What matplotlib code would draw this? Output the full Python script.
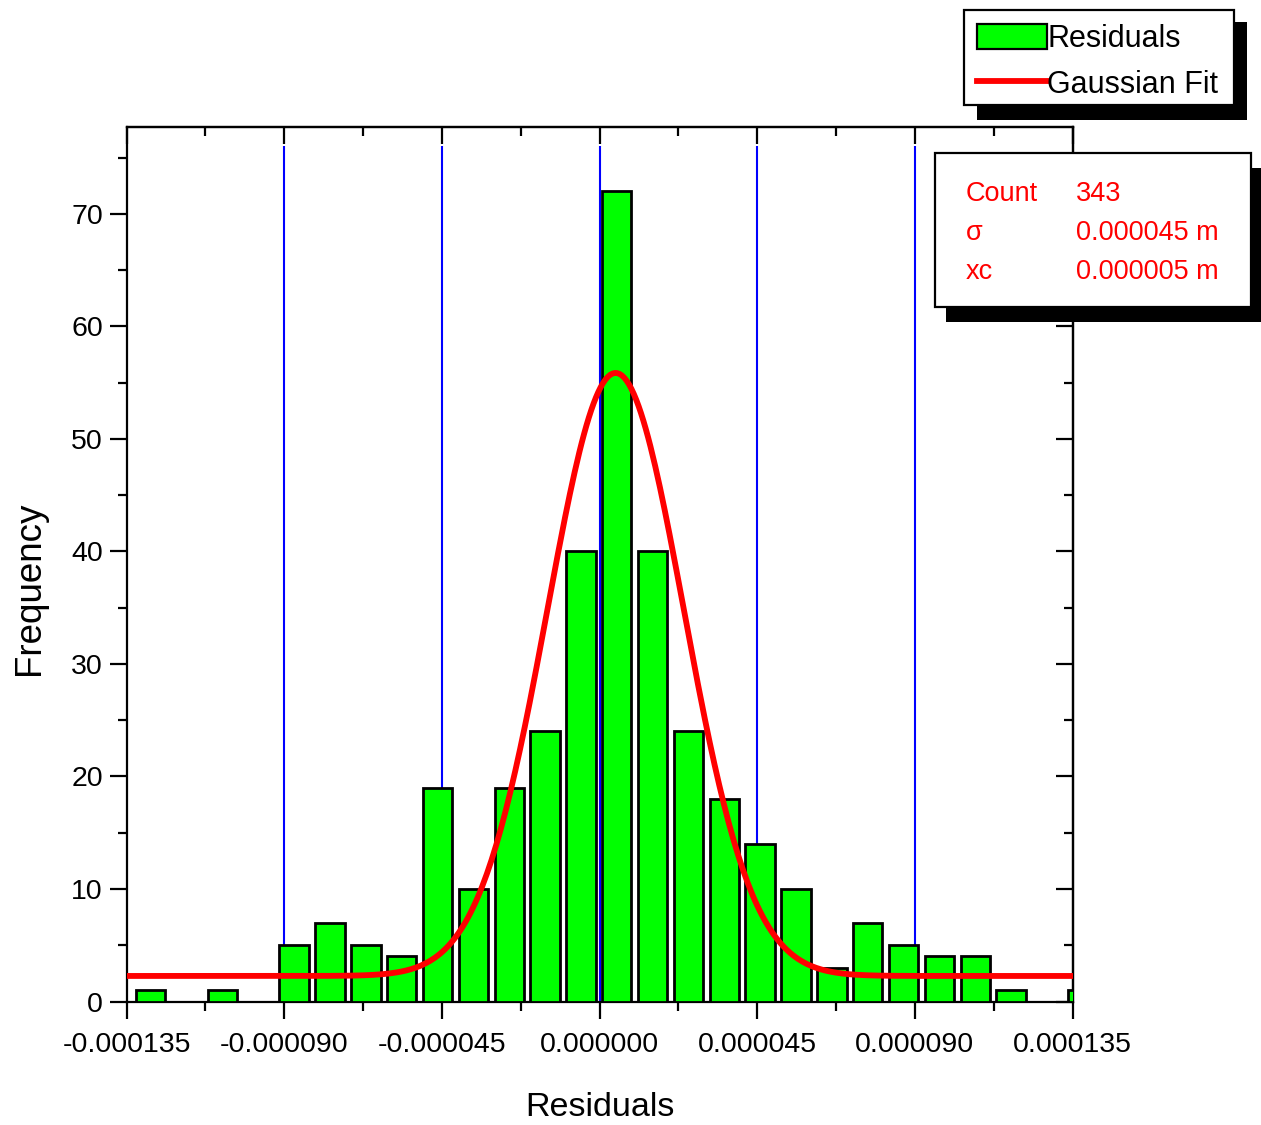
import numpy as np
import matplotlib
matplotlib.use("Agg")
import matplotlib.pyplot as plt
from matplotlib.patches import Rectangle, Patch
from matplotlib.lines import Line2D
from matplotlib.ticker import MultipleLocator, FixedLocator, FuncFormatter

plt.rcParams['font.family'] = ['Liberation Sans', 'DejaVu Sans']

# === Dati ===
bin_start = -0.00012808   # centro della prima classe
bin_width = 0.000010232
counts = [1, 0, 1, 0, 5, 7, 5, 4, 19, 10, 19, 24, 40, 72, 40,
          24, 18, 14, 10, 3, 7, 5, 4, 4, 1, 0, 1]

# parametri del fit gaussiano
fit_y0 = 2.27
fit_xc = 0.0000046
fit_sigma = 0.0000195
fit_amp = 53.6

ref_lines = [-0.000090, -0.000045, 0.0, 0.000045, 0.000090]
x_ticks = [-0.000135, -0.000090, -0.000045, 0.0, 0.000045, 0.000090, 0.000135]

stat_names = ["Count", "σ", "xc"]
stat_values = ["343", "0.000045 m", "0.000005 m"]

W, H = 1261, 1125


def fx(px):
    return px / W


def fy(py):
    return 1 - py / H


fig = plt.figure(figsize=(W / 100, H / 100), dpi=100)
ax = fig.add_axes([fx(126.5), fy(1001.5), (1072.5 - 126.5) / W, (1001.5 - 127) / H])

centers = bin_start + bin_width * np.arange(len(counts))
bars = ax.bar(centers, counts, width=bin_width * 0.82, color="#00ff00",
              edgecolor="black", linewidth=2, zorder=3)

ax.vlines(ref_lines, 0, 76, colors="#0000ff", linewidth=1.5, zorder=2)

xs = np.linspace(-0.000135, 0.000135, 400)
ys = fit_y0 + fit_amp * np.exp(-0.5 * ((xs - fit_xc) / fit_sigma) ** 2)
fit_line, = ax.plot(xs, ys, color="red", linewidth=4.2, zorder=4)

ax.set_xlim(-0.000135, 0.000135)
ax.set_ylim(0, 77.73)

for s in ax.spines.values():
    s.set_linewidth(1.6)

ax.xaxis.set_major_locator(FixedLocator(x_ticks))
ax.xaxis.set_minor_locator(MultipleLocator(0.0000225))
ax.xaxis.set_major_formatter(FuncFormatter(lambda v, p: f"{v:.6f}".replace("-0.000000", "0.000000")))
ax.yaxis.set_major_locator(MultipleLocator(10))
ax.yaxis.set_minor_locator(MultipleLocator(5))

ax.tick_params(which="both", direction="out", width=1.6, labelsize=20.5, top=False, right=False)
ax.tick_params(which="major", length=12)
ax.tick_params(which="minor", length=6.5)
ax.tick_params(axis="x", pad=10)
ax.tick_params(axis="y", pad=5)

# assi secondari: tacche verso l'interno
sec_x = ax.secondary_xaxis("top")
sec_x.xaxis.set_major_locator(FixedLocator(x_ticks))
sec_x.xaxis.set_minor_locator(MultipleLocator(0.0000225))
sec_x.tick_params(which="both", direction="in", width=1.6, labeltop=False)
sec_x.tick_params(which="major", length=12)
sec_x.tick_params(which="minor", length=6.5)
sec_x.spines["top"].set_linewidth(1.6)

sec_y = ax.secondary_yaxis("right")
sec_y.yaxis.set_major_locator(MultipleLocator(10))
sec_y.yaxis.set_minor_locator(MultipleLocator(5))
sec_y.tick_params(which="both", direction="in", width=1.6, labelright=False)
sec_y.tick_params(which="major", length=12)
sec_y.tick_params(which="minor", length=6.5)
sec_y.spines["right"].set_linewidth(1.6)

fig.text(fx(599.5), fy(1108), "Residuals", ha="center", va="center", fontsize=24.5)
fig.text(fx(29), fy(588), "Frequency", ha="center", va="center", rotation=90, fontsize=26.5)

# === Legenda con ombra ===
fig.add_artist(Rectangle((fx(977), fy(120)), (1247 - 977) / W, (120 - 22) / H,
                         transform=fig.transFigure, facecolor="black", edgecolor="none", zorder=5))
fig.add_artist(Rectangle((fx(964), fy(105)), (1234 - 964) / W, (105 - 10) / H,
                         transform=fig.transFigure, facecolor="white", edgecolor="black",
                         linewidth=1.6, zorder=6))
leg = fig.legend([Patch(facecolor="#00ff00", edgecolor="black", linewidth=1.6),
                  Line2D([0], [0], color="red", linewidth=4.2)],
                 ["Residuals", "Gaussian Fit"],
                 loc="upper left", bbox_to_anchor=(fx(977), fy(24)), frameon=False,
                 fontsize=22, handlelength=2.3, handleheight=0.9, handletextpad=0.0,
                 labelspacing=0.5, borderpad=0, borderaxespad=0)
leg.set_zorder(7)

# === Riquadro statistiche ===
fig.add_artist(Rectangle((fx(946), fy(322)), (1265 - 946) / W, (322 - 168) / H,
                         transform=fig.transFigure, facecolor="black", edgecolor="none", zorder=5))
fig.add_artist(Rectangle((fx(935), fy(307)), (1251 - 935) / W, (307 - 153) / H,
                         transform=fig.transFigure, facecolor="white", edgecolor="black",
                         linewidth=1.6, zorder=6))
for i, (name, val) in enumerate(zip(stat_names, stat_values)):
    yy = 194 + i * 39
    fig.text(fx(966), fy(yy), name, color="red", fontsize=19.5, va="center", zorder=7)
    fig.text(fx(1076), fy(yy), val, color="red", fontsize=19.5, va="center", zorder=7)

fig.savefig("out.png", dpi=100)
